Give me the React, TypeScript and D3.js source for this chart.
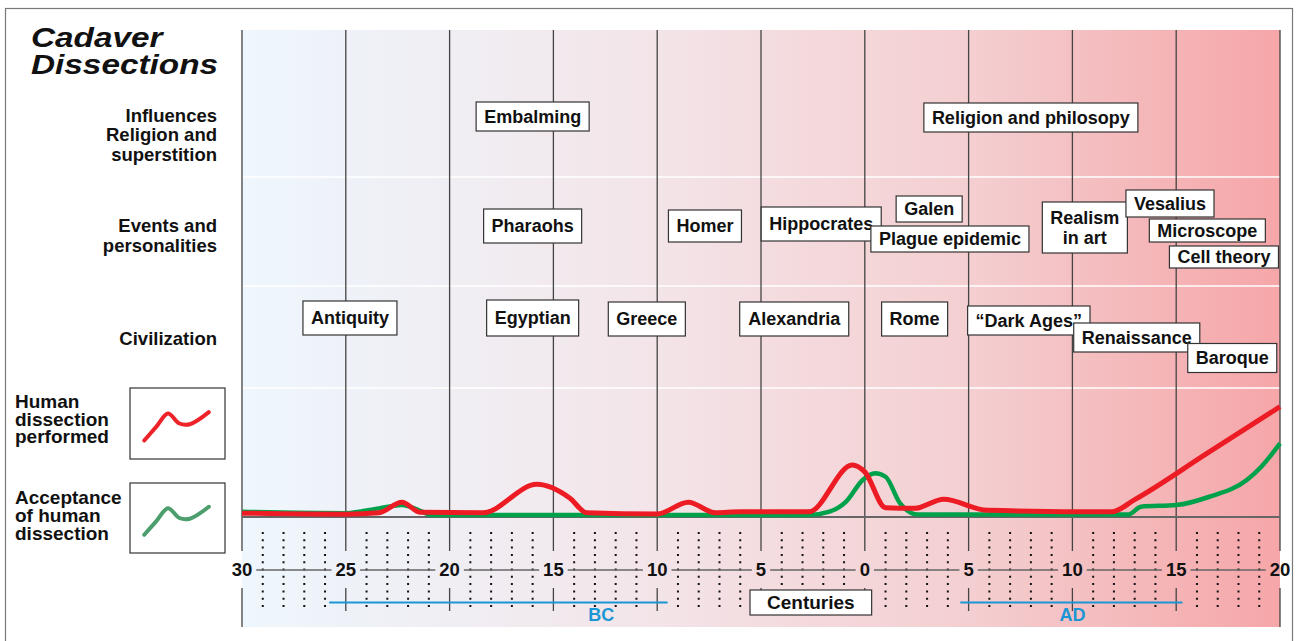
import React, { useEffect, useRef } from "react";
import * as d3 from "d3";

const W = 1298;
const H = 641;
const FONT = "'Liberation Sans', Arial, Helvetica, sans-serif";

// centuries, negative = BC
const tickCenturies = [-30, -25, -20, -15, -10, -5, 0, 5, 10, 15, 20];
const tickLabels = ["30", "25", "20", "15", "10", "5", "0", "5", "10", "15", "20"];

// [century, relative level 0..100]
const dissectionPerformed: [number, number][] = [
  [-30, 3], [-25, 2.2], [-23.4, 3.3], [-22.3, 11.4], [-21.4, 3.6], [-18.4, 3.3],
  [-15.8, 25.3], [-14.2, 14.5], [-13.4, 3.3], [-10, 2.3], [-8.5, 11.4], [-7.2, 3.3],
  [-6, 4], [-2.7, 4], [-0.6, 40.3], [0, 35], [1, 7.2], [2.4, 6.7], [3.8, 13.7],
  [5.9, 5.2], [11.9, 4], [13, 13.5], [16.5, 49.5], [20, 85.5],
];
const dissectionAcceptance: [number, number][] = [
  [-30, 4], [-25, 3], [-23.4, 6.7], [-22.3, 9.3], [-21.3, 4], [-20.9, 1.5],
  [-2.7, 1.5], [-1.7, 4.1], [-0.9, 11.9], [-0.1, 28.7], [0.5, 33.9], [1, 31.2],
  [1.7, 10.6], [2.55, 2], [12.7, 2], [13.3, 8], [15, 9.3], [16.6, 15.7],
  [18.4, 28.7], [19.1, 39], [20, 57.1],
];
// legend sample curve, [t, level] both 0..1
const legendShape: [number, number][] = [
  [0.15, 0.26], [0.28, 0.46], [0.4, 0.64], [0.52, 0.5], [0.63, 0.49], [0.83, 0.66],
];

const rowTitles = [
  ["Influences", "Religion and", "superstition"],
  ["Events and", "personalities"],
  ["Civilization"],
];

const influences = [
  { text: "Embalming", century: -16 },
  { text: "Religion and philosopy", century: 8 },
];
const events = [
  { text: "Pharaohs", century: -16 },
  { text: "Homer", century: -7.7 },
  { text: "Hippocrates", century: -2.1 },
  { text: "Galen", century: 3.1 },
  { text: "Plague epidemic", century: 4.1 },
  { text: "Realism\nin art", century: 10.6 },
  { text: "Vesalius", century: 14.7 },
  { text: "Microscope", century: 16.5 },
  { text: "Cell theory", century: 17.3 },
];
const civilizations = [
  { text: "Antiquity", century: -24.8 },
  { text: "Egyptian", century: -16 },
  { text: "Greece", century: -10.5 },
  { text: "Alexandria", century: -3.4 },
  { text: "Rome", century: 2.4 },
  { text: "\u201CDark Ages\u201D", century: 7.9 },
  { text: "Renaissance", century: 13.1 },
  { text: "Baroque", century: 17.7 },
];

// box vertical placement (center y, height)
const boxLayout: Record<string, [number, number]> = {
  "Embalming": [116.5, 29],
  "Religion and philosopy": [117.5, 29],
  "Pharaohs": [226, 34],
  "Homer": [226, 32],
  "Hippocrates": [224, 34],
  "Galen": [209, 26],
  "Plague epidemic": [239, 26],
  "Realism\nin art": [227.5, 51],
  "Vesalius": [203.5, 27],
  "Microscope": [230.5, 23],
  "Cell theory": [257, 22],
  "Antiquity": [318, 34],
  "Egyptian": [318, 36],
  "Greece": [319, 34],
  "Alexandria": [319, 34],
  "Rome": [319, 34],
  "\u201CDark Ages\u201D": [320.5, 29],
  "Renaissance": [337.5, 29],
  "Baroque": [358, 29],
};

export default function App() {
  const ref = useRef<SVGSVGElement>(null);

  useEffect(() => {
    const svg = d3.select(ref.current);
    svg.selectAll("*").remove();

    const left = 242, right = 1280, top = 30, base = 517, bottom = 627;
    const x = d3.scaleLinear().domain([-30, 20]).range([left, right]);
    const y = d3.scaleLinear().domain([0, 100]).range([base, 388]);

    // outer frame
    svg.append("rect")
      .attr("x", 5.5).attr("y", 8.5).attr("width", 1287).attr("height", 700)
      .attr("fill", "white").attr("stroke", "#777").attr("stroke-width", 1.2);

    // background gradient
    const grad = svg.append("defs").append("linearGradient")
      .attr("id", "bg").attr("x1", 0).attr("x2", 1).attr("y1", 0).attr("y2", 0);
    [
      [0, "#eef7fd"], [0.1, "#eef2f8"], [0.25, "#f1ecf1"], [0.4, "#f3e4e8"],
      [0.55, "#f4d9dc"], [0.7, "#f4cfd1"], [0.8, "#f4c1c3"], [0.9, "#f5b3b5"], [1, "#f6a6a9"],
    ].forEach(([o, c]) => grad.append("stop").attr("offset", o as number).attr("stop-color", c as string));

    svg.append("rect")
      .attr("x", left).attr("y", top).attr("width", right - left).attr("height", bottom - top)
      .attr("fill", "url(#bg)");

    // band separators
    svg.append("g").selectAll("line").data([177, 286, 388]).join("line")
      .attr("x1", left).attr("x2", right).attr("y1", (d) => d).attr("y2", (d) => d)
      .attr("stroke", "white").attr("stroke-width", 1.5);

    // dotted century columns
    const minor = d3.range(-29, 20).filter((c) => c % 5 !== 0);
    svg.append("g").selectAll("line").data(minor).join("line")
      .attr("x1", (d) => x(d)).attr("x2", (d) => x(d))
      .attr("y1", 532).attr("y2", 612)
      .attr("stroke", "#111").attr("stroke-width", 2).attr("stroke-dasharray", "2 5.3");

    // major vertical lines
    const gridG = svg.append("g").attr("stroke", "#444").attr("stroke-width", 1.3);
    tickCenturies.forEach((c) => {
      const edge = c === -30 || c === 20;
      gridG.append("line").attr("x1", x(c)).attr("x2", x(c)).attr("y1", top).attr("y2", 551);
      gridG.append("line").attr("x1", x(c)).attr("x2", x(c)).attr("y1", 588).attr("y2", edge ? bottom : 611);
    });

    // baseline
    svg.append("line").attr("x1", left).attr("x2", right).attr("y1", base).attr("y2", base)
      .attr("stroke", "#666").attr("stroke-width", 2);

    // curves
    const line = d3.line<[number, number]>()
      .x((d) => x(d[0])).y((d) => y(d[1])).curve(d3.curveMonotoneX);
    svg.append("path").attr("d", line(dissectionAcceptance))
      .attr("fill", "none").attr("stroke", "#00a14b").attr("stroke-width", 4.5)
      .attr("stroke-linejoin", "round");
    svg.append("path").attr("d", line(dissectionPerformed))
      .attr("fill", "none").attr("stroke", "#ed1c24").attr("stroke-width", 5)
      .attr("stroke-linejoin", "round");

    // axis tick labels and connecting segments
    const tickG = svg.append("g");
    const widths: number[] = [];
    tickCenturies.forEach((c, i) => {
      const t = tickG.append("text")
        .attr("x", x(c)).attr("y", 570).attr("dy", "0.35em")
        .attr("text-anchor", "middle")
        .attr("font-family", FONT).attr("font-weight", "bold").attr("font-size", 18.5)
        .attr("fill", "#111").text(tickLabels[i]);
      widths.push((t.node() as SVGTextElement).getComputedTextLength());
    });
    for (let i = 0; i < tickCenturies.length - 1; i++) {
      tickG.append("line")
        .attr("x1", x(tickCenturies[i]) + widths[i] / 2 + 4)
        .attr("x2", x(tickCenturies[i + 1]) - widths[i + 1] / 2 - 4)
        .attr("y1", 570).attr("y2", 570)
        .attr("stroke", "#666").attr("stroke-width", 1.5);
    }

    // BC / AD
    const blue = "#1b96d5";
    [[-25.8, -9.5, -12.7, "BC"], [4.6, 15.3, 10, "AD"]].forEach(([a, b, m, lab]) => {
      svg.append("line").attr("x1", x(a as number)).attr("x2", x(b as number))
        .attr("y1", 602.5).attr("y2", 602.5).attr("stroke", blue).attr("stroke-width", 2);
      svg.append("text").attr("x", x(m as number)).attr("y", 614.5).attr("dy", "0.35em")
        .attr("text-anchor", "middle").attr("font-family", FONT).attr("font-weight", "bold")
        .attr("font-size", 18).attr("fill", blue).text(lab as string);
    });

    // labelled box helper
    const drawBox = (text: string, cx: number, cy: number, h: number, size: number, pad: number) => {
      const g = svg.append("g");
      const rect = g.append("rect").attr("fill", "white").attr("stroke", "#333").attr("stroke-width", 1.2);
      const lines = text.split("\n");
      const t = g.append("text").attr("font-family", FONT).attr("font-weight", "bold")
        .attr("font-size", size).attr("fill", "#111").attr("text-anchor", "middle");
      const lh = 20;
      lines.forEach((l, i) => {
        t.append("tspan").attr("x", cx)
          .attr("y", cy + (i - (lines.length - 1) / 2) * lh).attr("dy", "0.35em").text(l);
      });
      const bb = (t.node() as SVGTextElement).getBBox();
      const w = bb.width + pad * 2;
      rect.attr("x", cx - w / 2).attr("y", cy - h / 2).attr("width", w).attr("height", h);
    };

    [...influences, ...events, ...civilizations].forEach((d) => {
      const [cy, h] = boxLayout[d.text];
      drawBox(d.text, x(d.century), cy, h, 18, 8);
    });

    // centuries label box
    drawBox("Centuries", x(-2.6), 602.5, 25, 19, 17);

    // title (single text, two lines)
    const title = svg.append("text")
      .attr("transform", "translate(31,0) scale(1.17,1)")
      .attr("font-family", FONT).attr("font-weight", "bold").attr("font-style", "italic")
      .attr("font-size", 28.5).attr("fill", "#111");
    title.append("tspan").attr("x", 0).attr("y", 47.5).text("Cadaver");
    title.append("tspan").attr("x", 0).attr("y", 74).text("Dissections");

    // row titles
    const rowBaselines = [[121.5, 141, 160.5], [231.5, 251.5], [344.5]];
    rowTitles.forEach((rows, r) => {
      rows.forEach((s, i) => {
        svg.append("text").attr("x", 217).attr("y", rowBaselines[r][i])
          .attr("text-anchor", "end").attr("font-family", FONT).attr("font-weight", "bold")
          .attr("font-size", 18.5).attr("fill", "#111").text(s);
      });
    });

    // legend
    const legends = [
      { lines: ["Human", "dissection", "performed"], base: [408, 425.5, 443], box: [388, 459], color: "#ee2229" },
      { lines: ["Acceptance", "of human", "dissection"], base: [504, 521.5, 539.5], box: [483, 553], color: "#4c9e6c" },
    ];
    legends.forEach((lg) => {
      const lt = svg.append("text").attr("font-family", FONT).attr("font-weight", "bold")
        .attr("font-size", 19).attr("fill", "#111");
      lg.lines.forEach((s, i) => {
        lt.append("tspan").attr("x", 15).attr("y", lg.base[i]).text(s);
      });
      svg.append("rect").attr("x", 130).attr("y", lg.box[0]).attr("width", 95)
        .attr("height", lg.box[1] - lg.box[0]).attr("fill", "white")
        .attr("stroke", "#333").attr("stroke-width", 1.2);
      const lx = d3.scaleLinear().domain([0, 1]).range([130, 225]);
      const ly = d3.scaleLinear().domain([0, 1]).range([lg.box[1], lg.box[0]]);
      const ll = d3.line<[number, number]>().x((d) => lx(d[0])).y((d) => ly(d[1]))
        .curve(d3.curveCatmullRom);
      svg.append("path").attr("d", ll(legendShape)).attr("fill", "none")
        .attr("stroke", lg.color).attr("stroke-width", 4).attr("stroke-linecap", "round");
    });
  }, []);

  return (
    <svg
      ref={ref}
      width={W}
      height={H}
      style={{ position: "absolute", left: 0, top: 0, display: "block" }}
    />
  );
}
